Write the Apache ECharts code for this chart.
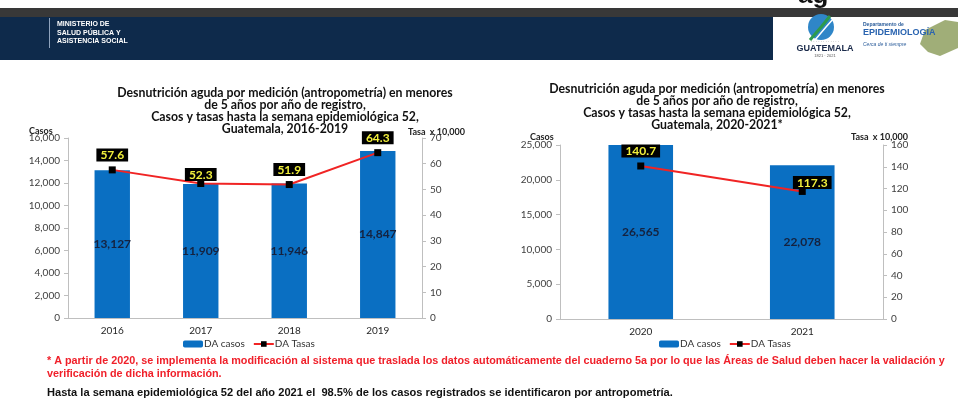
<!DOCTYPE html>
<html><head><meta charset="utf-8">
<script src="https://cdn.jsdelivr.net/npm/echarts@6/dist/echarts.min.js"></script>
<style>html,body{margin:0;padding:0;background:#fff}#c{width:958px;height:405px}</style>
</head><body><div id="c"></div>
<script>
const cat1 = ['2016','2017','2018','2019'];
const casos1 = [13127, 11909, 11946, 14847];
const tasas1 = [57.6, 52.3, 51.9, 64.3];
const cat2 = ['2020','2021'];
const casos2 = [26565, 22078];
const tasas2 = [140.7, 117.3];

const title1 = 'Desnutrición aguda por medición (antropometría) en menores\nde 5 años por año de registro,\nCasos y tasas hasta la semana epidemiológica 52,\nGuatemala, 2016-2019';
const title2 = 'Desnutrición aguda por medición (antropometría) en menores\nde 5 años por año de registro,\nCasos y tasas hasta la semana epidemiológica 52,\nGuatemala, 2020-2021*';
const note1 = '* A partir de 2020, se implementa la modificación al sistema que traslada los datos automáticamente del cuaderno 5a por lo que las Áreas de Salud deben hacer la validación y';
const note2 = 'verificación de dicha información.';
const note3 = 'Hasta la semana epidemiológica 52 del año 2021 el  98.5% de los casos registrados se identificaron por antropometría.';

const F = 'Lato';
const BLUE = '#0a6fc2';
const RED = '#f02424';
const AX = '#bfbfbf';
const LBL = '#404040';

function yAx(grid, max, interval, pos) {
  return {
    type: 'value', gridIndex: grid, min: 0, max: max, interval: interval, position: pos,
    axisLine: {show: true, lineStyle: {color: AX, width: 1}},
    axisTick: {show: true, length: 4, lineStyle: {color: AX}},
    splitLine: {show: false},
    axisLabel: {fontFamily: F, fontSize: 10, color: LBL, margin: 8,
      formatter: v => v.toLocaleString('en-US')}
  };
}
function xAx(grid, data) {
  return {
    type: 'category', gridIndex: grid, data: data,
    axisLine: {show: true, lineStyle: {color: AX}},
    axisTick: {show: false},
    axisLabel: {fontFamily: F, fontSize: 10, color: '#262626', margin: 8}
  };
}
const lineLabel = {
  show: true, position: 'top', distance: 5, backgroundColor: '#000', color: '#f2f03c',
  fontFamily: F, fontWeight: 'bold', fontSize: 12, padding: [1, 4, 0, 4], formatter: p => p.value.toFixed(1)
};
const barLabel = {
  show: true, position: 'inside', color: '#15223f', fontFamily: F, fontWeight: 'bold', fontSize: 12,
  formatter: p => p.value.toLocaleString('en-US')
};
const offs1 = [[0,0],[0,6],[0,0],[0,0]];
const offs2 = [[0,0],[10,6]];
const nameStyle = {fontFamily: F, fontWeight: 'bold', fontSize: 9, fill: '#222', verticalAlign: 'middle'};
const noteStyle = {fontFamily: 'Liberation Sans', fontWeight: 'bold', verticalAlign: 'middle'};
const titleStyle = {fontFamily: F, fontWeight: 'bold', fontSize: 12.3, color: '#111', lineHeight: 12};

const chart = echarts.init(document.getElementById('c'), null, {renderer: 'canvas'});
chart.setOption({
  animation: false,
  backgroundColor: '#fff',
  title: [
    {text: title1, left: 280, top: 82, textAlign: 'center', textStyle: titleStyle},
    {text: title2, left: 712, top: 78, textAlign: 'center', textStyle: titleStyle}
  ],
  grid: [
    {left: 68, right: 536, top: 138, bottom: 87},
    {left: 560, right: 75, top: 145, bottom: 86}
  ],
  legend: [
    {left: 178, top: 334, itemWidth: 20, itemHeight: 7, itemGap: 8, data: ['DA casos', 'DA Tasas'],
     textStyle: {fontFamily: F, fontSize: 10, color: '#333', padding: [0,0,0,-4]}},
    {left: 654, top: 334, itemWidth: 20, itemHeight: 7, itemGap: 8, data: ['DA casos', 'DA Tasas'],
     textStyle: {fontFamily: F, fontSize: 10, color: '#333', padding: [0,0,0,-4]}}
  ],
  xAxis: [xAx(0, cat1), xAx(1, cat2)],
  yAxis: [
    yAx(0, 16000, 2000, 'left'),
    yAx(0, 70, 10, 'right'),
    yAx(1, 25000, 5000, 'left'),
    yAx(1, 160, 20, 'right')
  ],
  series: [
    {name: 'DA casos', type: 'bar', xAxisIndex: 0, yAxisIndex: 0, data: casos1, barWidth: '40%',
     itemStyle: {color: BLUE}, label: barLabel},
    {name: 'DA Tasas', type: 'line', xAxisIndex: 0, yAxisIndex: 1,
     data: tasas1.map((v, i) => ({value: v, label: {offset: offs1[i]}})),
     symbol: 'rect', symbolSize: 7, itemStyle: {color: '#000'}, lineStyle: {color: RED, width: 2},
     label: lineLabel, z: 5},
    {name: 'DA casos', type: 'bar', xAxisIndex: 1, yAxisIndex: 2, data: casos2, barWidth: '40%',
     itemStyle: {color: BLUE}, label: barLabel, clip: true},
    {name: 'DA Tasas', type: 'line', xAxisIndex: 1, yAxisIndex: 3,
     data: tasas2.map((v, i) => ({value: v, label: {offset: offs2[i]}})),
     symbol: 'rect', symbolSize: 7, itemStyle: {color: '#000'}, lineStyle: {color: RED, width: 2},
     label: lineLabel, z: 5}
  ],
  graphic: [
    {type: 'text', x: 798, y: -17, z: 1, style: {text: 'ag', fontFamily: 'Liberation Sans', fontWeight: 'bold', fontSize: 26, fill: '#111'}},
    {type: 'rect', shape: {x: 0, y: 8, width: 958, height: 9}, style: {fill: '#383838'}, z: 2},
    {type: 'rect', shape: {x: 0, y: 17, width: 773, height: 43}, style: {fill: '#0e2a4b'}, z: 2},
    {type: 'rect', shape: {x: 773, y: 17, width: 185, height: 43}, style: {fill: '#ffffff'}, z: 2},
    {type: 'line', shape: {x1: 49.5, y1: 18, x2: 49.5, y2: 48}, style: {stroke: '#8fa3bd', lineWidth: 1}, z: 3},
    {type: 'text', x: 57, y: 20, z: 3, style: {text: 'MINISTERIO DE\nSALUD PÚBLICA Y\nASISTENCIA SOCIAL', fontFamily: 'Liberation Sans', fontWeight: 'bold', fontSize: 7, lineHeight: 8.5, fill: '#ffffff'}},
    {type: 'circle', shape: {cx: 821, cy: 27, r: 13}, style: {fill: '#2f86c8'}, z: 3},
    {type: 'polyline', shape: {points: [[810, 40], [822, 26], [830, 16]]}, style: {stroke: '#2e9b4d', lineWidth: 3, fill: null}, z: 4},
    {type: 'polyline', shape: {points: [[815, 40], [826, 27], [834, 18]]}, style: {stroke: '#ffffff', lineWidth: 1.5, fill: null}, z: 4},
    {type: 'text', x: 825, y: 44, z: 3, style: {text: 'GUATEMALA', align: 'center', fontFamily: 'Liberation Sans', fontWeight: 'bold', fontSize: 9, fill: '#1a2a4a'}},
    {type: 'text', x: 825, y: 40, z: 3, style: {text: '· · · · · · · · · · · ·', align: 'center', fontFamily: 'Liberation Sans', fontSize: 4, fill: '#555'}},
    {type: 'text', x: 825, y: 54, z: 3, style: {text: '1821 · 2021', align: 'center', fontFamily: 'Liberation Sans', fontSize: 4, fill: '#555'}},
    {type: 'text', x: 863, y: 22, z: 3, style: {text: 'Departamento de', fontFamily: 'Liberation Sans', fontWeight: 'bold', fontSize: 5, fill: '#2a5c9a'}},
    {type: 'text', x: 863, y: 28, z: 3, style: {text: 'EPIDEMIOLOGÍA', fontFamily: 'Liberation Sans', fontWeight: 'bold', fontSize: 9, fill: '#2a64b0'}},
    {type: 'text', x: 863, y: 42, z: 3, style: {text: 'Cerca de ti siempre', fontFamily: 'Liberation Sans', fontStyle: 'italic', fontSize: 5, fill: '#2a5c9a'}},
    {type: 'polygon', shape: {points: [[925, 30], [945, 20], [958, 22], [958, 48], [940, 56], [928, 52], [920, 44]]}, style: {fill: '#8fa060', opacity: 0.85}, z: 2},
    {type: 'text', x: 29, y: 131, style: Object.assign({text: 'Casos'}, nameStyle)},
    {type: 'text', x: 408, y: 132, style: Object.assign({text: 'Tasa  x 10,000'}, nameStyle)},
    {type: 'text', x: 530, y: 137, style: Object.assign({text: 'Casos'}, nameStyle)},
    {type: 'text', x: 851, y: 137, style: Object.assign({text: 'Tasa  x 10,000'}, nameStyle)},
    {type: 'text', x: 47, y: 361, style: Object.assign({text: note1, fill: '#f0202a', fontSize: 10.8}, noteStyle)},
    {type: 'text', x: 47, y: 374, style: Object.assign({text: note2, fill: '#f0202a', fontSize: 10.8}, noteStyle)},
    {type: 'text', x: 47, y: 393, style: Object.assign({text: note3, fill: '#111', fontSize: 11.1}, noteStyle)}
  ]
});
</script></body></html>
